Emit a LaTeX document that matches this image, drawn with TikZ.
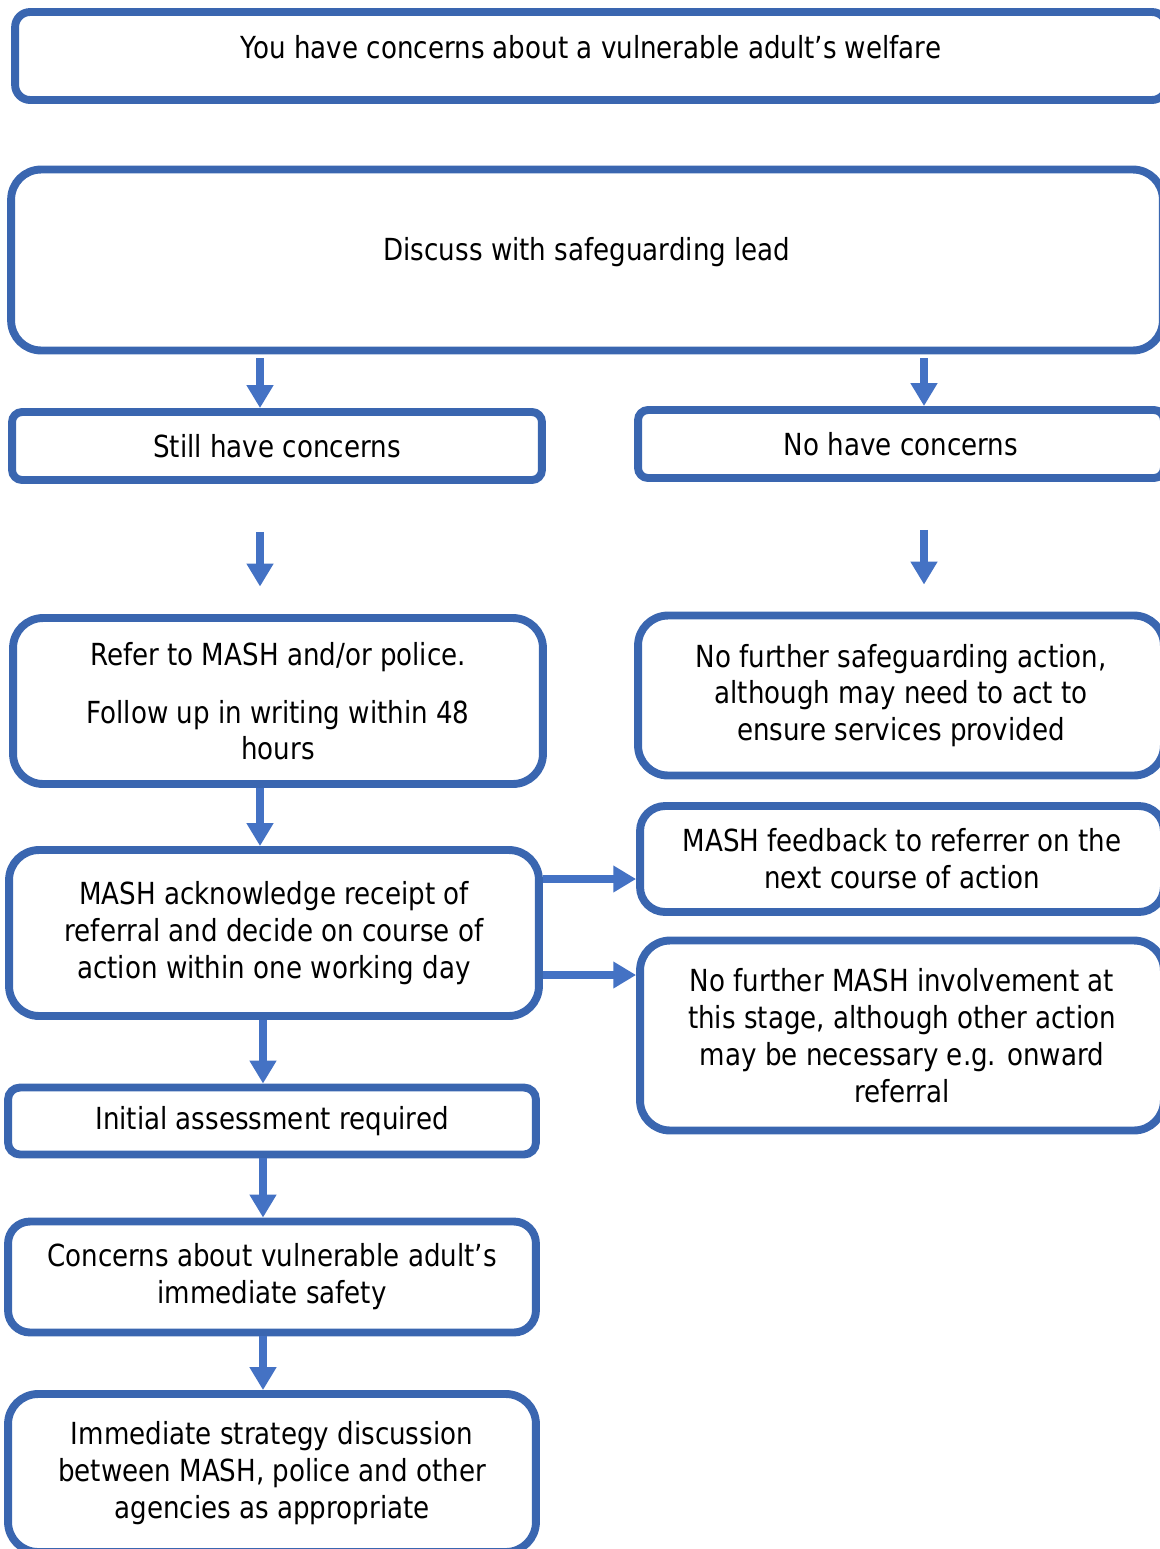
\documentclass[tikz,border=0pt]{standalone}
\usepackage{fontspec}
\setmainfont[FakeStretch=0.86]{DejaVu Sans}
\usetikzlibrary{arrows.meta}
\definecolor{boxblue}{HTML}{3A66B0}
\definecolor{arrowblue}{HTML}{4472C4}
\begin{document}
\begin{tikzpicture}[x=0.02cm,y=-0.02cm,
  font=\fontsize{17.3pt}{21pt}\selectfont,
  box/.style={draw=boxblue, line width=4.5pt, rounded corners=#1, align=center, inner sep=0pt},
  box/.default=6mm,
  sz/.style 2 args={minimum width=#1*0.2mm, minimum height=#2*0.2mm},
  arr/.style={draw=arrowblue, line width=4.3pt, -{Triangle[length=13pt,width=14.5pt]}}]
\useasboundingbox (0,0) rectangle (1160,1549);
\clip (0,0) rectangle (1160,1549);
% columns and rows of the connectors
\coordinate (lcol) at (260,0);
\coordinate (mcol) at (263,0);
\coordinate (rcol) at (924,0);
\coordinate (row1) at (0,879);
\coordinate (row2) at (0,975);
% boxes
\node[box=3mm, sz={1152}{88}, label={[yshift=1.8mm]center:You have concerns about a vulnerable adult’s welfare}] (concern) at (591,56) {};
\node[box=6mm, sz={1152}{181}, label={[yshift=1.6mm]center:Discuss with safeguarding lead}] (discuss) at (587,260) {};
\node[box=2mm, sz={530}{68}] (still) at (277,446) {Still have concerns};
\node[box=2mm, sz={526}{68}] (nohave) at (901,444) {No have concerns};
\node[box=6mm, sz={530}{166}, text depth=0mm] (refer) at (278,701) {Refer to MASH and/or police.\\[4.2mm]Follow up in writing within 48\\hours};
\node[box=6mm, sz={526}{160}] (noaction) at (901,695.5) {No further safeguarding action,\\although may need to act to\\ensure services provided};
\node[box=6mm, sz={530}{166}] (mashack) at (274,933) {MASH acknowledge receipt of\\referral and decide on course of\\action within one working day};
\node[box=5mm, sz={524}{106}] (feedback) at (902,859) {MASH feedback to referrer on the\\next course of action};
\node[box=6mm, sz={524}{190}] (nomash) at (902,1035.5) {No further MASH involvement at\\this stage, although other action\\may be necessary e.g. onward\\referral};
\node[box=2.4mm, sz={528}{67}] (initial) at (272,1121) {Initial assessment required};
\node[box=4.4mm, sz={528}{111}] (safety) at (272,1277) {Concerns about vulnerable adult’s\\immediate safety};
\node[box=6mm, sz={528}{158}] (strategy) at (272,1473) {Immediate strategy discussion\\between MASH, police and other\\agencies as appropriate};
% connectors
\draw[arr, shorten <=0.8mm] (lcol |- discuss.south) -- (lcol |- still.north);
\draw[arr, shorten <=0.8mm] (rcol |- discuss.south) -- (rcol |- nohave.north);
\draw[arr, shorten <=9.6mm, shorten >=5.5mm] (lcol |- still.south) -- (lcol |- refer.north);
\draw[arr, shorten <=9.6mm, shorten >=5.4mm] (rcol |- nohave.south) -- (rcol |- noaction.north);
\draw[arr] (lcol |- refer.south) -- (lcol |- mashack.north);
\draw[arr] (row1 -| mashack.east) -- (row1 -| feedback.west);
\draw[arr] (row2 -| mashack.east) -- (row2 -| nomash.west);
\draw[arr] (mcol |- mashack.south) -- (mcol |- initial.north);
\draw[arr] (mcol |- initial.south) -- (mcol |- safety.north);
\draw[arr] (mcol |- safety.south) -- (mcol |- strategy.north);
\end{tikzpicture}
\end{document}
